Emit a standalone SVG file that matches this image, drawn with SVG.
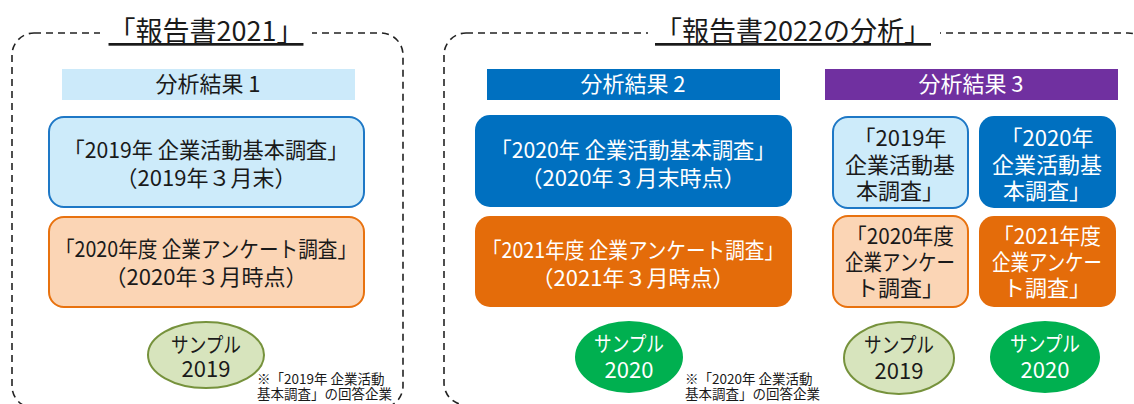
<svg xmlns="http://www.w3.org/2000/svg" width="1134" height="404" viewBox="0 0 1134 404">
<style>
text{font-family:"Noto Sans CJK JP","Noto Sans",sans-serif;text-anchor:middle}
.frame{fill:none;stroke:#222;stroke-width:1.6;stroke-dasharray:7 5}
.title{font-size:27px;fill:#1a1a1a;text-decoration:underline}
.bar{font-size:22px}
.big{font-size:22px}
.small{font-size:22px}
.ell{font-size:21px}
.num{font-size:22px}
.note{font-size:13.5px;fill:#1a1a1a;text-anchor:start}
.dk{fill:#1a1a1a}
.wt{fill:#ffffff}
.lb{fill:#CDEBFA;stroke:#1E78C6;stroke-width:2}
.db{fill:#0070C0}
.pc{fill:#FBD5B5;stroke:#E8720F;stroke-width:2}
.or{fill:#E46C0A}
.ol{fill:#D7E4BD;stroke:#76923C;stroke-width:2}
.gr{fill:#00B050}
</style>
<rect width="1134" height="404" fill="#ffffff"/>
<g id="panel-2021">
<rect class="frame" x="12" y="33" width="391" height="375" rx="22"/>
<rect x="100" y="16" width="212" height="34" fill="#ffffff"/>
<text class="title" x="206" y="41">「報告書2021」</text>
</g>
<g id="panel-2022">
<rect class="frame" x="444" y="33" width="706" height="372" rx="22"/>
<rect x="648" y="16" width="292" height="34" fill="#ffffff"/>
<text class="title" x="793" y="41">「報告書2022の分析」</text>
</g>
<g id="bar1"><rect x="62" y="69" width="293" height="31" fill="#CCEAFA"/><text class="bar dk" x="208" y="92">分析結果 1</text></g>
<g id="bar2"><rect x="487" y="69" width="293" height="31" fill="#0070C0"/><text class="bar wt" x="633" y="92">分析結果 2</text></g>
<g id="bar3"><rect x="825" y="69" width="293" height="31" fill="#7030A0"/><text class="bar wt" x="971" y="92">分析結果 3</text></g>
<g id="box-2019-survey">
<rect class="lb" x="49" y="117" width="315" height="90" rx="15"/>
<text class="big dk" x="206" y="158" textLength="285" lengthAdjust="spacingAndGlyphs">「2019年 企業活動基本調査」</text>
<text class="big dk" x="206" y="186">（2019年３月末）</text>
</g>
<g id="box-2020-questionnaire">
<rect class="pc" x="49" y="217" width="315" height="90" rx="15"/>
<text class="big dk" x="206" y="257" textLength="302" lengthAdjust="spacingAndGlyphs">「2020年度 企業アンケート調査」</text>
<text class="big dk" x="206" y="285">（2020年３月時点）</text>
</g>
<g id="box-2020-survey">
<rect class="db" x="475" y="115" width="317" height="92" rx="15"/>
<text class="big wt" x="633" y="158" textLength="285" lengthAdjust="spacingAndGlyphs">「2020年 企業活動基本調査」</text>
<text class="big wt" x="633" y="186">（2020年３月末時点）</text>
</g>
<g id="box-2021-questionnaire">
<rect class="or" x="475" y="216" width="317" height="91" rx="15"/>
<text class="big wt" x="633" y="258" textLength="302" lengthAdjust="spacingAndGlyphs">「2021年度 企業アンケート調査」</text>
<text class="big wt" x="633" y="286">（2021年３月時点）</text>
</g>
<g id="box-a">
<rect class="lb" x="833" y="117" width="135" height="91" rx="15"/>
<text class="small dk" x="900" y="146">「2019年</text>
<text class="small dk" x="900" y="173" textLength="110" lengthAdjust="spacingAndGlyphs">企業活動基</text>
<text class="small dk" x="900" y="199">本調査」</text>
</g>
<g id="box-b">
<rect class="db" x="979" y="116" width="137" height="92" rx="15"/>
<text class="small wt" x="1047" y="146">「2020年</text>
<text class="small wt" x="1047" y="173" textLength="110" lengthAdjust="spacingAndGlyphs">企業活動基</text>
<text class="small wt" x="1047" y="199">本調査」</text>
</g>
<g id="box-c">
<rect class="pc" x="833" y="216" width="135" height="91" rx="15"/>
<text class="small dk" x="900" y="244" textLength="108" lengthAdjust="spacingAndGlyphs">「2020年度</text>
<text class="small dk" x="900" y="270" textLength="110" lengthAdjust="spacingAndGlyphs">企業アンケー</text>
<text class="small dk" x="900" y="296">ト調査」</text>
</g>
<g id="box-d">
<rect class="or" x="979" y="216" width="137" height="91" rx="15"/>
<text class="small wt" x="1047" y="244" textLength="108" lengthAdjust="spacingAndGlyphs">「2021年度</text>
<text class="small wt" x="1047" y="270" textLength="110" lengthAdjust="spacingAndGlyphs">企業アンケー</text>
<text class="small wt" x="1047" y="296">ト調査」</text>
</g>
<g id="sample-2019-left">
<ellipse class="ol" cx="206" cy="355" rx="58" ry="33"/>
<text class="ell dk" x="206" y="352" textLength="70" lengthAdjust="spacingAndGlyphs">サンプル</text>
<text class="num dk" x="206" y="377">2019</text>
</g>
<g id="sample-2020-mid">
<ellipse class="gr" cx="629" cy="357" rx="54" ry="36"/>
<text class="ell wt" x="629" y="351" textLength="70" lengthAdjust="spacingAndGlyphs">サンプル</text>
<text class="num wt" x="629" y="378">2020</text>
</g>
<g id="sample-2019-right">
<ellipse class="ol" cx="899" cy="358" rx="55" ry="36"/>
<text class="ell dk" x="899" y="352" textLength="70" lengthAdjust="spacingAndGlyphs">サンプル</text>
<text class="num dk" x="899" y="379">2019</text>
</g>
<g id="sample-2020-right">
<ellipse class="gr" cx="1045" cy="357" rx="55" ry="36"/>
<text class="ell wt" x="1045" y="351" textLength="70" lengthAdjust="spacingAndGlyphs">サンプル</text>
<text class="num wt" x="1045" y="378">2020</text>
</g>
<g id="note1">
<text class="note" x="257" y="384">※「2019年 企業活動</text>
<text class="note" x="257" y="399">基本調査」の回答企業</text>
</g>
<g id="note2">
<text class="note" x="685" y="384">※「2020年 企業活動</text>
<text class="note" x="685" y="399">基本調査」の回答企業</text>
</g>
<g id="connectors"></g>
</svg>
